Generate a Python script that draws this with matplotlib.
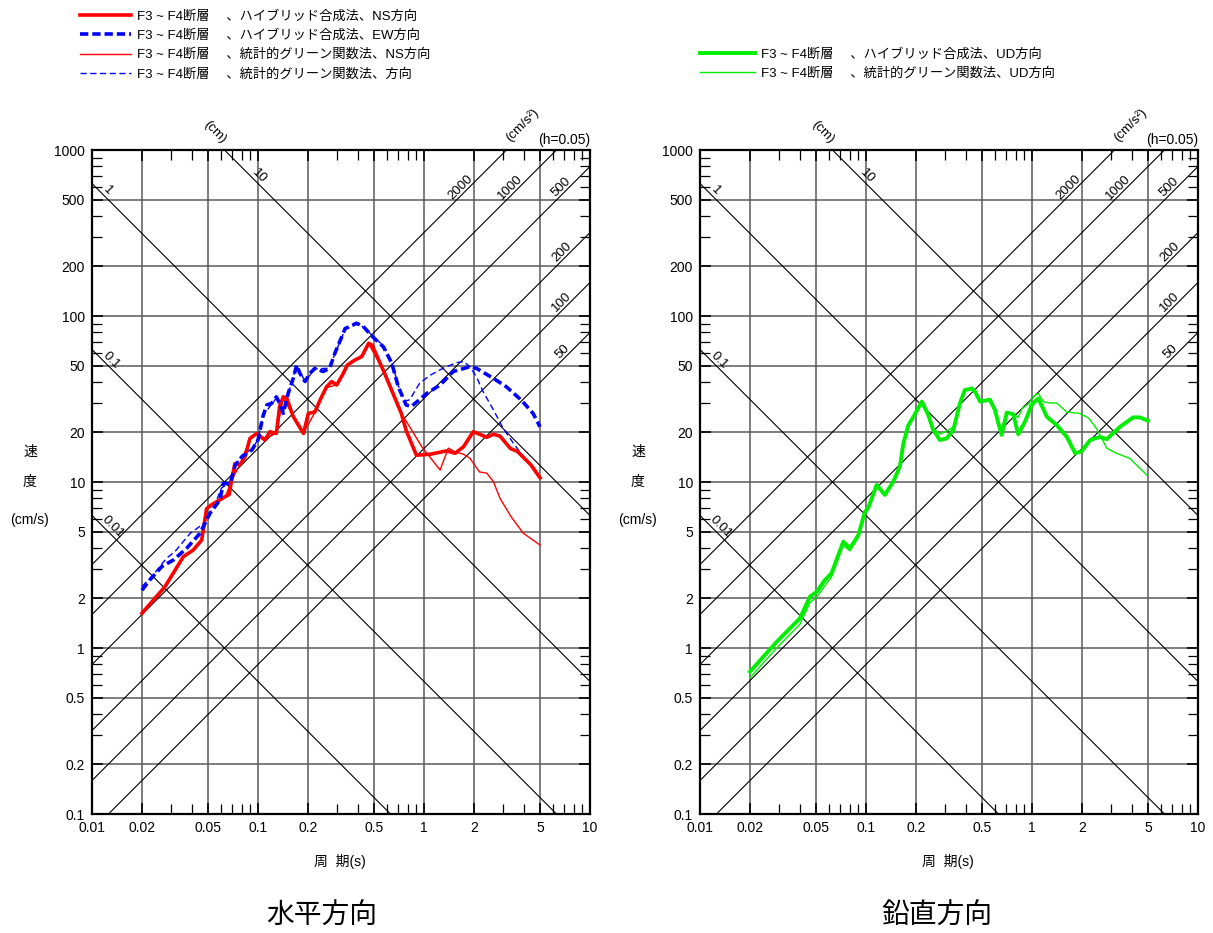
import numpy as np
import matplotlib.pyplot as plt
from matplotlib.ticker import LogLocator, FuncFormatter, NullFormatter

plt.rcParams['font.family'] = ['Liberation Sans', 'Noto Sans CJK JP']
plt.rcParams['font.size'] = 10

# ---- data (period s, pseudo velocity cm/s) ----
# horizontal, hybrid NS
T_ns_h = [0.02, 0.0275, 0.0355, 0.0407, 0.0458, 0.049, 0.0526, 0.0633, 0.067, 0.0694,
          0.0726, 0.078, 0.0835, 0.0894, 0.0982, 0.110, 0.118, 0.129, 0.135, 0.142,
          0.149, 0.163, 0.188, 0.201, 0.22, 0.237, 0.259, 0.278, 0.298, 0.326,
          0.345, 0.38, 0.422, 0.464, 0.487, 0.58, 0.65, 0.73, 0.78, 0.9,
          1.09, 1.37, 1.54, 1.73, 1.98, 2.39, 2.62, 2.87, 3.32, 3.65, 4.4, 5.0]
V_ns_h = [1.62, 2.34, 3.55, 3.89, 4.47, 6.9, 7.3, 8.15, 8.4, 10.3,
          12.9, 12.7, 14.2, 18.3, 19.6, 17.9, 20.1, 19.6, 28.5, 32.6,
          32.0, 24.8, 19.6, 25.9, 26.4, 31.3, 37.5, 40.3, 38.4, 45.0,
          50.6, 54.0, 57.0, 68.5, 66.7, 45.0, 34.2, 25.9, 20.5, 14.5,
          14.7, 15.4, 14.9, 16.3, 20.1, 18.6, 19.4, 18.9, 15.9, 15.3, 12.7, 10.6]

# horizontal, hybrid EW
T_ew_h = [0.02, 0.0223, 0.0263, 0.0309, 0.0372, 0.0447, 0.0513, 0.059, 0.0618, 0.068,
          0.073, 0.080, 0.092, 0.100, 0.107, 0.113, 0.121, 0.129, 0.135, 0.142,
          0.152, 0.163, 0.171, 0.179, 0.192, 0.205, 0.22, 0.247, 0.27, 0.29,
          0.335, 0.392, 0.43, 0.49, 0.57, 0.64, 0.70, 0.78, 0.84, 1.04,
          1.25, 1.50, 1.89, 2.07, 2.62, 3.13, 3.86, 4.54, 5.0]
V_ew_h = [2.23, 2.57, 3.09, 3.39, 3.99, 4.9, 6.46, 7.8, 9.8, 9.8,
          12.7, 14.2, 15.6, 17.9, 24.8, 29.1, 29.8, 32.6, 29.8, 25.9,
          34.2, 42.1, 50.6, 45.0, 40.3, 45.0, 48.4, 46.3, 48.4, 59.4,
          84.0, 90.5, 86.6, 75.1, 65.1, 51.9, 37.5, 29.1, 28.5, 34.2,
          38.4, 46.3, 49.5, 48.4, 42.1, 37.5, 31.1, 25.9, 21.5]

# horizontal, statistical Green's function NS
T_ns_s = [0.02, 0.0275, 0.0355, 0.0407, 0.0458, 0.049, 0.0526, 0.0633, 0.0694, 0.078,
          0.0894, 0.0982, 0.110, 0.129, 0.142, 0.163, 0.188, 0.22, 0.259, 0.298,
          0.345, 0.422, 0.464, 0.58, 0.65, 0.73, 0.82, 0.97, 1.25, 1.34,
          1.40, 1.54, 1.73, 1.89, 2.16, 2.39, 2.62, 2.87, 3.35, 3.96, 5.0]
V_ns_s = [1.6, 2.3, 3.5, 3.9, 4.5, 6.8, 7.3, 8.1, 10.2, 12.8,
          18.0, 19.4, 18.0, 19.8, 32.0, 25.0, 19.8, 26.2, 37.0, 38.5,
          50.5, 57.0, 68.0, 45.5, 35.0, 25.9, 21.5, 16.3, 11.8, 14.2,
          16.0, 15.2, 14.7, 13.9, 11.5, 11.3, 10.05, 7.97, 6.17, 4.92, 4.17]

# horizontal, statistical Green's function EW
T_ew_s = [0.02, 0.0229, 0.0281, 0.0316, 0.039, 0.0468, 0.0513, 0.0564, 0.0603, 0.068,
          0.073, 0.080, 0.092, 0.100, 0.107, 0.121, 0.129, 0.142, 0.152, 0.171,
          0.192, 0.22, 0.27, 0.29, 0.335, 0.392, 0.43, 0.49, 0.57, 0.64,
          0.70, 0.77, 0.82, 0.94, 1.09, 1.30, 1.57, 1.73, 1.89, 2.07,
          2.27, 2.62, 3.0, 3.46, 4.1, 5.0]
V_ew_s = [2.35, 2.69, 3.47, 3.81, 4.9, 5.6, 6.46, 7.8, 9.2, 10.0,
          12.5, 14.5, 15.8, 18.0, 25.0, 29.5, 32.0, 26.5, 34.0, 50.0,
          40.5, 48.0, 48.5, 59.0, 83.0, 89.0, 86.0, 76.0, 66.0, 53.0,
          38.0, 30.7, 31.3, 39.3, 44.0, 48.4, 52.4, 53.1, 49.5, 43.0,
          35.0, 27.2, 21.0, 17.1, 13.6, 10.8]

# vertical, hybrid UD
T_ud_h = [0.02, 0.029, 0.04, 0.046, 0.0505, 0.0566, 0.062, 0.073, 0.080, 0.090,
          0.0986, 0.103, 0.116, 0.130, 0.146, 0.160, 0.168, 0.180, 0.193, 0.217,
          0.237, 0.254, 0.279, 0.306, 0.336, 0.368, 0.394, 0.434, 0.454, 0.487,
          0.558, 0.598, 0.627, 0.656, 0.705, 0.771, 0.826, 0.908, 0.995, 1.09,
          1.23, 1.41, 1.62, 1.82, 1.99, 2.24, 2.57, 2.82, 3.39, 4.07, 4.47, 5.0]
V_ud_h = [0.72, 1.09, 1.51, 2.04, 2.18, 2.57, 2.82, 4.37, 3.99, 4.79,
          6.62, 6.95, 9.6, 8.36, 10.05, 12.4, 17.1, 22.0, 24.7, 30.5,
          25.4, 20.6, 17.9, 18.3, 20.6, 29.8, 35.8, 36.6, 35.0, 30.5,
          31.3, 27.2, 22.6, 19.2, 26.2, 25.6, 19.4, 23.1, 29.1, 31.9,
          24.7, 22.0, 18.7, 14.9, 15.3, 17.9, 18.7, 18.1, 21.5, 24.5, 24.5, 23.4]

# vertical, statistical Green's function UD
T_ud_s = [0.02, 0.029, 0.04, 0.046, 0.0505, 0.0566, 0.062, 0.073, 0.080, 0.090,
          0.0986, 0.103, 0.116, 0.130, 0.146, 0.160, 0.168, 0.180, 0.193, 0.217,
          0.237, 0.254, 0.279, 0.306, 0.336, 0.368, 0.394, 0.434, 0.454, 0.487,
          0.558, 0.598, 0.627, 0.656, 0.705, 0.771, 0.826, 0.87, 0.95, 1.03,
          1.09, 1.17, 1.29, 1.41, 1.62, 1.94, 2.19, 2.44, 2.82, 3.22, 3.87, 4.93]
V_ud_s = [0.66, 1.0, 1.39, 1.88, 2.02, 2.38, 2.68, 4.15, 3.85, 4.65,
          6.5, 6.9, 9.4, 8.4, 10.1, 12.6, 17.3, 22.2, 25.0, 30.0,
          25.6, 21.0, 19.5, 20.2, 21.5, 30.0, 35.5, 36.3, 35.0, 30.8,
          31.0, 27.0, 22.8, 19.6, 26.4, 25.6, 24.5, 27.6, 29.5, 33.0,
          34.2, 30.5, 29.9, 29.9, 26.4, 25.9, 24.3, 21.1, 16.0, 14.9, 13.9, 11.0]

# tripartite guide lines
disp_cm = [0.01, 0.1, 1, 10]
disp_label_T = [0.0125, 0.0123, 0.0117, 0.096]
acc_gal = [50, 100, 200, 500, 1000, 2000]

labels_h = ["F3 ~ F4断層　 、ハイブリッド合成法、NS方向",
            "F3 ~ F4断層　 、ハイブリッド合成法、EW方向",
            "F3 ~ F4断層　 、統計的グリーン関数法、NS方向",
            "F3 ~ F4断層　 、統計的グリーン関数法、方向"]
labels_v = ["F3 ~ F4断層　 、ハイブリッド合成法、UD方向",
            "F3 ~ F4断層　 、統計的グリーン関数法、UD方向"]

W, H = 1213, 933
fig = plt.figure(figsize=(W / 100, H / 100), dpi=100)


def tripartite(ax):
    ax.set_xscale("log")
    ax.set_yscale("log")
    ax.set_xlim(0.01, 10)
    ax.set_ylim(0.1, 1000)
    fmt = FuncFormatter(lambda v, p: "%g" % v)
    for axis in (ax.xaxis, ax.yaxis):
        axis.set_major_locator(LogLocator(base=10, subs=(1, 2, 5)))
        axis.set_minor_locator(LogLocator(base=10, subs=(3, 4, 6, 7, 8, 9)))
        axis.set_major_formatter(fmt)
        axis.set_minor_formatter(NullFormatter())
    ax.grid(which="major", color="#5a5a5a", lw=1.1)
    ax.tick_params(which="both", direction="in", top=True, right=True,
                   labelsize=10, color="black")
    ax.tick_params(which="major", length=8, width=1.2, pad=5)
    ax.tick_params(which="minor", length=7, width=0.9)
    for s in ax.spines.values():
        s.set_linewidth(1.6)

    T = np.array([0.01, 10.0])
    for D, tl in zip(disp_cm, disp_label_T):
        ax.plot(T, 2 * np.pi * D / T, color="black", lw=0.8, zorder=1.8)
        ax.text(tl, 2 * np.pi * D / tl, "%g" % D, rotation=-45, fontsize=9.5,
                ha="center", va="bottom", rotation_mode="anchor")
    for A in acc_gal:
        ax.plot(T, A * T / (2 * np.pi), color="black", lw=0.8, zorder=1.8)
        tl = min(7.2, 2 * np.pi * 562 / A)
        ax.text(tl, A * tl / (2 * np.pi), "%g" % A, rotation=45, fontsize=9.5,
                ha="center", va="bottom", rotation_mode="anchor")

    ax.text(0.247, 1.027, "(cm)", transform=ax.transAxes, rotation=-45,
            ha="center", va="center", fontsize=9.5)
    ax.text(0.863, 1.038, "(cm/s²)", transform=ax.transAxes, rotation=45,
            ha="center", va="center", fontsize=9.5)
    ax.text(1.0, 1.015, "(h=0.05)", transform=ax.transAxes,
            ha="right", va="center", fontsize=10)

    ax.text(0.498, -0.072, "周  期(s)", transform=ax.transAxes,
            ha="center", va="center", fontsize=10)
    ax.text(-0.1245, 0.545, "速", transform=ax.transAxes, ha="center", va="center")
    ax.text(-0.1245, 0.500, "度", transform=ax.transAxes, ha="center", va="center")
    ax.text(-0.1245, 0.443, "(cm/s)", transform=ax.transAxes, ha="center", va="center")


ax1 = fig.add_axes([92 / W, (H - 814) / H, 498 / W, 664 / H])
ax2 = fig.add_axes([700 / W, (H - 814) / H, 498 / W, 664 / H])
tripartite(ax1)
tripartite(ax2)

# horizontal
l1, = ax1.plot(T_ns_h, V_ns_h, color="red", lw=2.6, zorder=4)
l2, = ax1.plot(T_ew_h, V_ew_h, color="blue", lw=2.6, dashes=(2.3, 1.1), zorder=4)
l3, = ax1.plot(T_ns_s, V_ns_s, color="red", lw=1.0, zorder=3)
l4, = ax1.plot(T_ew_s, V_ew_s, color="blue", lw=1.0, dashes=(4.5, 2.5), zorder=3)

# vertical
g1, = ax2.plot(T_ud_h, V_ud_h, color="#00ee00", lw=2.8, zorder=4)
g2, = ax2.plot(T_ud_s, V_ud_s, color="#00ee00", lw=1.0, zorder=3)

fig.legend([l1, l2, l3, l4], labels_h, loc="upper left",
           bbox_to_anchor=(80 / W, 1 - 10 / H), frameon=False, fontsize=9.5,
           handlelength=3.9, handletextpad=0.45, labelspacing=0.52,
           borderaxespad=0, borderpad=0)
fig.legend([g1, g2], labels_v, loc="upper left",
           bbox_to_anchor=(700 / W, 1 - 48 / H), frameon=False, fontsize=9.5,
           handlelength=4.2, handletextpad=0.45, labelspacing=0.52,
           borderaxespad=0, borderpad=0)

fig.text(322 / W, 1 - 917 / H, "水平方向", fontsize=20, ha="center", va="center")
fig.text(937 / W, 1 - 917 / H, "鉛直方向", fontsize=20, ha="center", va="center")

fig.savefig("out.png", dpi=100)
